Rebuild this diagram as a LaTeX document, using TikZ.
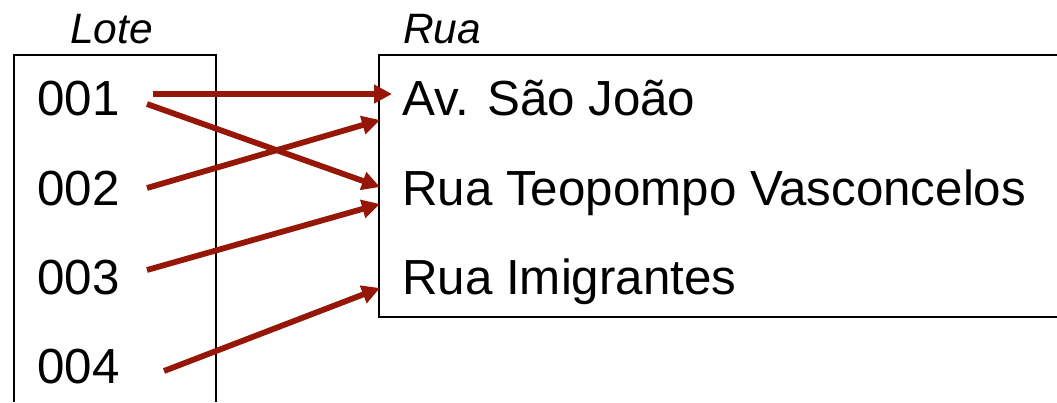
\documentclass[tikz,border=0pt]{standalone}
\usepackage{fontspec}
\setmainfont{Liberation Sans}
\usetikzlibrary{arrows.meta}
\definecolor{arrred}{RGB}{150,22,8}
\tikzset{
  boxline/.style={draw=black,line width=2pt},
  item/.style={anchor=base west,inner sep=0pt,font=\fontsize{49.3}{58}\selectfont},
  head/.style={anchor=base west,inner sep=0pt,font=\fontsize{42.5}{50}\selectfont\itshape},
  link/.style={draw=arrred,line width=5.8pt,-{Triangle[length=18pt,width=18pt]}}
}
\begin{document}
\begin{tikzpicture}[x=1pt,y=-1pt]
\useasboundingbox (0,0) rectangle (1057,402);
% boxes
\draw[boxline] (14,402) -- (14,55) -- (216,55) -- (216,402);
\draw[boxline] (1057,55) -- (379,55) -- (379,317) -- (1057,317);
% headings
\node[head] (lote) at (70,43) {Lote};
\node[head] (rua) at (403,43) {Rua};
% left items
\node[item] (n1) at (37,115) {001};
\node[item] (n2) at (37,205) {002};
\node[item] (n3) at (37,294) {003};
\node[item] (n4) at (37,383) {004};
% right items
\node[item] (r1) at (402,115) {Av. São João};
\node[item] (r2) at (402,205) {Rua Teopompo Vasconcelos};
\node[item] (r3) at (402,294) {Rua Imigrantes};
% connector end points
\coordinate (s1a) at (153,94);
\coordinate (s1b) at (147,104);
\coordinate (s2) at (147,188);
\coordinate (s3) at (147,270);
\coordinate (s4) at (164,371);
\coordinate (t1a) at (392,94);
\coordinate (t1b) at (380,187);
\coordinate (t2) at (380,120);
\coordinate (t3) at (380,204);
\coordinate (t4) at (380,288);
% arrows
\draw[link] (s1a) -- (t1a);
\draw[link] (s1b) -- (t1b);
\draw[link] (s2) -- (t2);
\draw[link] (s3) -- (t3);
\draw[link] (s4) -- (t4);
\end{tikzpicture}
\end{document}
